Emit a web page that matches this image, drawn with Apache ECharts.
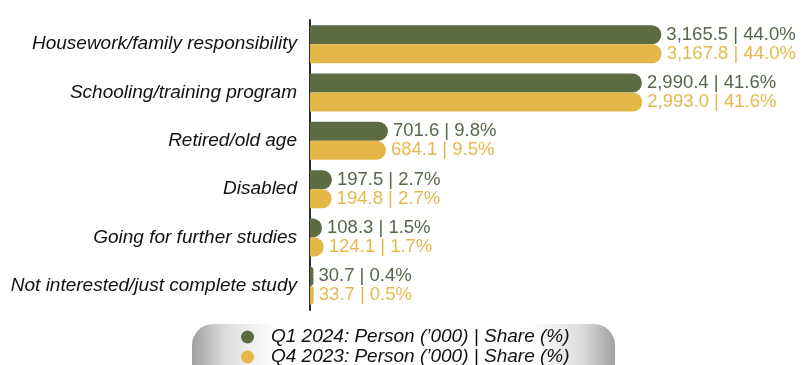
<!DOCTYPE html>
<html>
<head>
<meta charset="utf-8">
<script src="https://cdn.jsdelivr.net/npm/echarts@6/dist/echarts.min.js"></script>
<style>
  html, body { margin: 0; padding: 0; background: #ffffff; }
  #chart { width: 802px; height: 365px; }
</style>
</head>
<body>
<div id="chart"></div>
<script>
// Reasons for being outside the labour force
const categories = [
  'Housework/family responsibility',
  'Schooling/training program',
  'Retired/old age',
  'Disabled',
  'Going for further studies',
  'Not interested/just complete study'
];

const seriesNames = [
  'Q1 2024: Person (\u2019000) | Share (%)',
  'Q4 2023: Person (\u2019000) | Share (%)'
];

// Persons ('000)
const personsQ1_2024 = [3165.5, 2990.4, 701.6, 197.5, 108.3, 30.7];
const personsQ4_2023 = [3167.8, 2993.0, 684.1, 194.8, 124.1, 33.7];

// Share (%)
const shareQ1_2024 = [44.0, 41.6, 9.8, 2.7, 1.5, 0.4];
const shareQ4_2023 = [44.0, 41.6, 9.5, 2.7, 1.7, 0.5];

const GREEN = '#5d6b42';
const GOLD = '#e4b748';
const GREEN_TEXT = '#56664a';
const GOLD_TEXT = '#e6b84c';
const FONT = 'Liberation Sans, Arial, sans-serif';

function fmtPerson(v) {
  return v.toLocaleString('en-US', { minimumFractionDigits: 1, maximumFractionDigits: 1 });
}

function labelFor(shares) {
  return function (p) {
    return fmtPerson(p.value) + ' | ' + shares[p.dataIndex].toFixed(1) + '%';
  };
}

function legendAt(top, name) {
  return {
    orient: 'vertical',
    left: 241,
    top: top,
    itemGap: 0,
    itemWidth: 13,
    itemHeight: 13,
    icon: 'circle',
    padding: 0,
    selectedMode: false,
    textStyle: {
      fontFamily: FONT,
      fontStyle: 'italic',
      fontSize: 19,
      lineHeight: 20,
      color: '#111111',
      padding: [0, 0, 0, 12]
    },
    data: [name]
  };
}

const chart = echarts.init(document.getElementById('chart'), null, { renderer: 'canvas' });

chart.setOption({
  animation: false,
  backgroundColor: '#ffffff',
  graphic: [{
    type: 'rect',
    left: 192,
    top: 324,
    z: -10,
    shape: { width: 423, height: 60, r: 21 },
    style: {
      fill: new echarts.graphic.LinearGradient(0, 0, 1, 0, [
        { offset: 0, color: '#a0a0a0' },
        { offset: 0.08, color: '#dedede' },
        { offset: 0.2, color: '#ffffff' },
        { offset: 0.8, color: '#ffffff' },
        { offset: 0.92, color: '#dedede' },
        { offset: 1, color: '#a0a0a0' }
      ])
    }
  }],
  legend: [legendAt(327, seriesNames[0]), legendAt(347, seriesNames[1])],
  grid: {
    left: 310,
    right: 48,
    top: 20,
    bottom: 55,
    containLabel: false
  },
  xAxis: {
    type: 'value',
    min: 0,
    max: 4000,
    show: false
  },
  yAxis: {
    type: 'category',
    inverse: true,
    data: categories,
    axisLine: { show: true, lineStyle: { color: '#2b2b2b', width: 2 } },
    axisTick: { show: false },
    axisLabel: {
      margin: 13,
      fontFamily: FONT,
      fontStyle: 'italic',
      fontSize: 19,
      color: '#111111'
    }
  },
  series: [
    {
      name: seriesNames[0],
      type: 'bar',
      data: personsQ1_2024,
      barWidth: 19,
      barGap: '0%',
      itemStyle: { color: GREEN, borderRadius: [0, 10, 10, 0] },
      label: {
        show: true,
        position: 'right',
        distance: 5,
        fontFamily: FONT,
        fontSize: 18.5,
        color: GREEN_TEXT,
        formatter: labelFor(shareQ1_2024)
      }
    },
    {
      name: seriesNames[1],
      type: 'bar',
      data: personsQ4_2023,
      barWidth: 19,
      barGap: '0%',
      itemStyle: { color: GOLD, borderRadius: [0, 10, 10, 0] },
      label: {
        show: true,
        position: 'right',
        distance: 5,
        fontFamily: FONT,
        fontSize: 18.5,
        color: GOLD_TEXT,
        formatter: labelFor(shareQ4_2023)
      }
    }
  ]
});
</script>
</body>
</html>
